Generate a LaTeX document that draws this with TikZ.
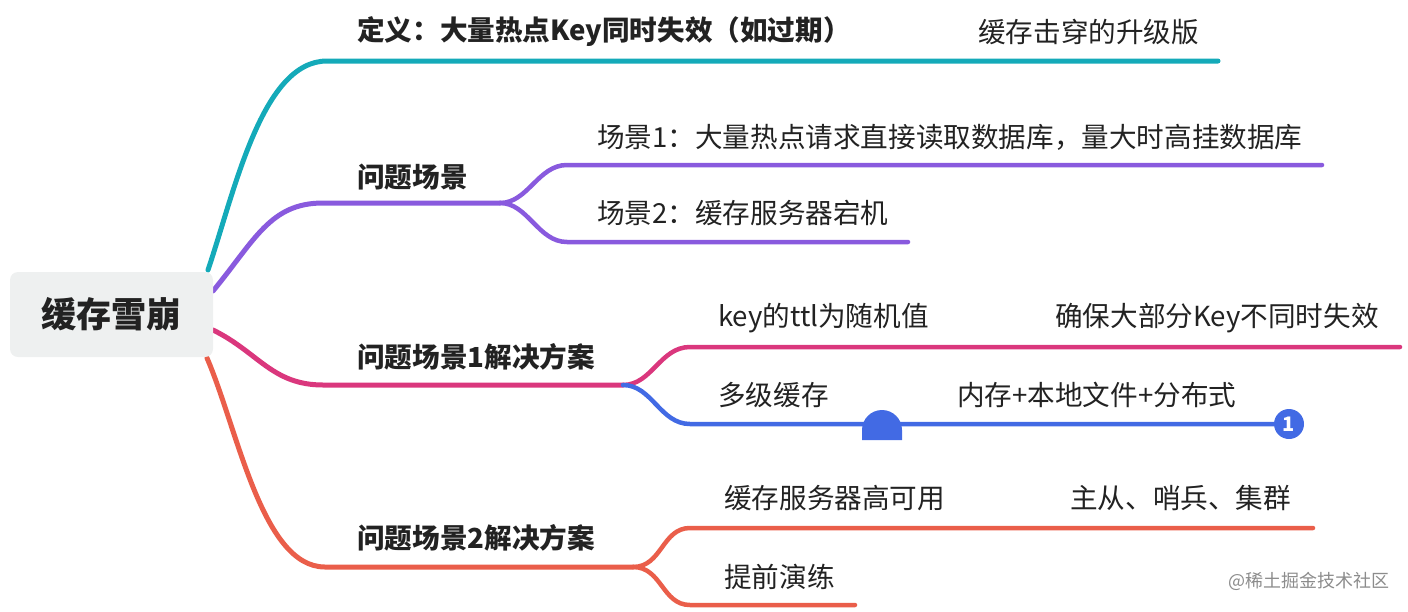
\documentclass[tikz,border=0pt]{standalone}
\usepackage{fontspec}
\setmainfont{Noto Sans CJK SC}
\usetikzlibrary{positioning,backgrounds}
\definecolor{ink}{RGB}{34,34,34}
\definecolor{rootfill}{RGB}{238,240,240}
\definecolor{tealcol}{RGB}{20,170,185}
\definecolor{purplecol}{RGB}{137,90,222}
\definecolor{magentacol}{RGB}{218,55,125}
\definecolor{bluecol}{RGB}{66,106,228}
\definecolor{orangecol}{RGB}{234,94,74}

\begin{document}
\begin{tikzpicture}[
  x=1pt, y=-1pt,
  font=\fontsize{27.6}{32}\selectfont,
  root/.style={fill=rootfill, rounded corners=8pt, minimum width=203pt,
               minimum height=85pt, inner sep=0pt, text=ink,
               font=\fontsize{35}{40}\selectfont\bfseries},
  topic/.style={anchor=west, inner sep=0pt, text=ink,
                font=\fontsize{27.6}{32}\selectfont\bfseries},
  leaf/.style={anchor=west, inner sep=0pt, text=ink},
  branch/.style={line width=5pt, line cap=round},
  twig/.style={line width=4.5pt, line cap=round},
  badge/.style={circle, fill=bluecol, text=white, minimum size=30pt,
                inner sep=0pt, font=\fontsize{20}{20}\selectfont\bfseries},
  ]
  \useasboundingbox (0,0) rectangle (1408,611);
  \node[root] (root) at (111.5,314.5) {缓存雪崩};
  % texts
  \node[topic] (def) at (357,32) {定义：大量热点Key同时失效（如过期）};
  \node[leaf] (defnote) at (978,32) {缓存击穿的升级版};
  \node[topic] (scene) at (357,177) {问题场景};
  \node[leaf] (scene1) at (597,137) {场景1：大量热点请求直接读取数据库，量大时高挂数据库};
  \node[leaf] (scene2) at (597,213) {场景2：缓存服务器宕机};
  \node[topic] (fix1) at (357,357) {问题场景1解决方案};
  \node[leaf] (ttl) at (718,318) {key的ttl为随机值};
  \node[leaf] (ttlnote) at (1055,318) {确保大部分Key不同时失效};
  \node[leaf] (multi) at (718,395) {多级缓存};
  \node[leaf] (multinote) at (957,395) {内存+本地文件+分布式};
  \node[topic] (fix2) at (357,538) {问题场景2解决方案};
  \node[leaf] (ha) at (724,498) {缓存服务器高可用};
  \node[leaf] (hanote) at (1070,498) {主从、哨兵、集群};
  \node[leaf] (drill) at (724,577) {提前演练};
  \node[badge] (one) at (1289,424) {1};
  \node[anchor=west, inner sep=0pt, text=black!45,
        font=\fontsize{18}{20}\selectfont] (mark) at (1228,581) {@稀土掘金技术社区};
  % branch points
  \coordinate (t0) at (208,270);   \coordinate (t1) at (327,61);   \coordinate (t2) at (1218,61);
  \coordinate (p0) at (213,291);   \coordinate (p1) at (323,203);  \coordinate (p2) at (500,203);
  \coordinate (p3) at (567,165);   \coordinate (p4) at (1322,165);
  \coordinate (p5) at (567,242);   \coordinate (p6) at (908,242);
  \coordinate (m0) at (213,330);   \coordinate (m1) at (323,385);  \coordinate (m2) at (623,385);
  \coordinate (m3) at (690,347);   \coordinate (m4) at (1400,347);
  \coordinate (m5) at (690,424);
  \coordinate (o0) at (207,358);   \coordinate (o1) at (325,567);  \coordinate (o2) at (633,567);
  \coordinate (o3) at (690,528);   \coordinate (o4) at (1313,528);
  \coordinate (o5) at (690,605);   \coordinate (o6) at (855,605);
  \begin{scope}[on background layer]
    \draw[branch, tealcol] (t0) .. controls (235,190) and (262,61) .. (t1) -- (t2);
    \draw[branch, purplecol] (p0) .. controls (255,240) and (270,203) .. (p1) -- (p2);
    \draw[twig, purplecol] (p2) .. controls (528,203) and (538,165) .. (p3) -- (p4);
    \draw[twig, purplecol] (p2) .. controls (528,203) and (538,242) .. (p5) -- (p6);
    \draw[branch, magentacol] (m0) .. controls (258,352) and (272,385) .. (m1) -- (m2);
    \draw[twig, magentacol] (m2) .. controls (652,385) and (660,347) .. (m3) -- (m4);
    \draw[twig, bluecol] (m2) .. controls (652,385) and (660,424) .. (m5) -- (one);
    \draw[branch, orangecol] (o0) .. controls (238,430) and (262,567) .. (o1) -- (o2);
    \draw[twig, orangecol] (o2) .. controls (662,567) and (662,528) .. (o3) -- (o4);
    \draw[twig, orangecol] (o2) .. controls (662,567) and (662,605) .. (o5) -- (o6);
  \end{scope}
  % marker on the blue line
  \fill[bluecol] (862,440) -- (862,430) arc[start angle=180, end angle=360, radius=20] -- (902,440) -- cycle;
\end{tikzpicture}
\end{document}
